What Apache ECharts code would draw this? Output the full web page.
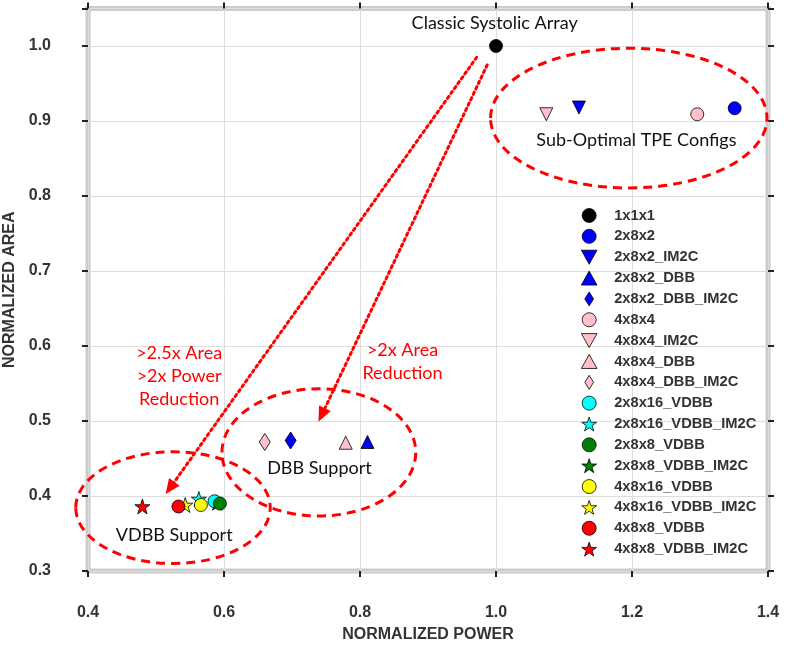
<!DOCTYPE html>
<html>
<head>
<meta charset="utf-8">
<script src="https://cdn.jsdelivr.net/npm/echarts@6/dist/echarts.min.js"></script>
<style>
  html, body { margin: 0; padding: 0; background: #fff; }
  #chart { width: 789px; height: 650px; }
</style>
</head>
<body>
<div id="chart"></div>
<script>
// configs, in legend order
var configNames = ['1x1x1', '2x8x2', '2x8x2_IM2C', '2x8x2_DBB', '2x8x2_DBB_IM2C',
  '4x8x4', '4x8x4_IM2C', '4x8x4_DBB', '4x8x4_DBB_IM2C',
  '2x8x16_VDBB', '2x8x16_VDBB_IM2C', '2x8x8_VDBB', '2x8x8_VDBB_IM2C',
  '4x8x16_VDBB', '4x8x16_VDBB_IM2C', '4x8x8_VDBB', '4x8x8_VDBB_IM2C'];
var powerValues = [1.0, 1.351, 1.122, 0.811, 0.698,
  1.296, 1.074, 0.779, 0.660,
  0.586, 0.563, 0.594, 0.590,
  0.566, 0.543, 0.533, 0.480];
var areaValues = [1.0, 0.917, 0.918, 0.472, 0.474,
  0.909, 0.909, 0.471, 0.472,
  0.393, 0.396, 0.390, 0.391,
  0.388, 0.388, 0.386, 0.386];

var xTicks = [0.4, 0.6, 0.8, 1.0, 1.2, 1.4];
var yTicks = [0.3, 0.4, 0.5, 0.6, 0.7, 0.8, 0.9, 1.0];

// annotations, in data units
var ellipseBoxes = [
  [0.992, 0.997, 1.3985, 0.8107],
  [0.597, 0.543, 0.882, 0.3733],
  [0.382, 0.459, 0.668, 0.310]
];
var arrowLines = [
  [[0.9716, 0.985], [0.5206, 0.4107]],
  [[0.987, 0.9747], [0.7437, 0.508]]
];
var blackNotes = [
  ['Classic Systolic Array', 0.998, 1.031],
  ['Sub-Optimal TPE Configs', 1.2065, 0.8747],
  ['DBB Support', 0.7404, 0.4377],
  ['VDBB Support', 0.5268, 0.348]
];
var redNotes = [
  ['>2.5x Area\n>2x Power\nReduction', 0.534, 0.56],
  ['>2x Area\nReduction', 0.8625, 0.5787]
];

var STAR = 'path://M50,0 L61.8,35.3 L99,35.3 L69,57.3 L80.3,92.6 L50,70.8 L19.7,92.6 L31,57.3 L1,35.3 L38.2,35.3 Z';
var SHAPES = {
  circle: { symbol: 'circle', size: 13, rotate: 0, icon: 'path://M10,5A5,5 0 1 1 0,5A5,5 0 1 1 10,5Z' },
  down: { symbol: 'triangle', size: 13, rotate: 180, icon: 'path://M0,0L10,0L5,9Z' },
  up: { symbol: 'triangle', size: 13, rotate: 0, icon: 'path://M5,0L10,9L0,9Z' },
  diamond: { symbol: 'diamond', size: [11, 17], rotate: 0, icon: 'path://M5,0L10,8L5,16L0,8Z' },
  star: { symbol: STAR, size: 15, rotate: 0, icon: STAR }
};
var shapeOf = ['circle', 'circle', 'down', 'up', 'diamond',
  'circle', 'down', 'up', 'diamond',
  'circle', 'star', 'circle', 'star',
  'circle', 'star', 'circle', 'star'];
var colorOf = ['#000000', '#0000ff', '#0000ff', '#0000ff', '#0000ff',
  '#ffc0cb', '#ffc0cb', '#ffc0cb', '#ffc0cb',
  '#00ffff', '#00ffff', '#007f00', '#007f00',
  '#ffff00', '#ffff00', '#ff0000', '#ff0000'];

var chart = echarts.init(document.getElementById('chart'));

var series = configNames.map(function (name, i) {
  var s = SHAPES[shapeOf[i]];
  var item = {
    name: name,
    type: 'scatter',
    xAxisIndex: 0,
    yAxisIndex: 0,
    z: name === '2x8x8_VDBB_IM2C' ? 1 : 2,
    symbol: s.symbol,
    symbolSize: s.size,
    symbolRotate: s.rotate,
    itemStyle: { color: colorOf[i], borderColor: '#000', borderWidth: 0.8, opacity: 1 },
    emphasis: { disabled: true },
    data: [[powerValues[i], areaValues[i]]]
  };
  if (i === 0) {
    item.markLine = {
      silent: true,
      symbol: ['none', 'triangle'],
      symbolSize: [13, 15],
      label: { show: false },
      lineStyle: { color: '#ff0000', width: 3, type: [2.5, 3.5], cap: 'round' },
      data: arrowLines.map(function (a) {
        return [{ coord: a[0] }, { coord: a[1] }];
      })
    };
  }
  return item;
});

var legendItems = configNames.map(function (name, i) {
  return { name: name, icon: SHAPES[shapeOf[i]].icon, itemStyle: { color: colorOf[i], borderColor: '#000', borderWidth: 0.8 } };
});

var tickFont = { color: '#333', fontWeight: 'bold', fontSize: 16, fontFamily: 'Liberation Sans, Arial, sans-serif' };

function oneDecimal(v) {
  return yTicks.concat(xTicks).some(function (t) { return Math.abs(t - v) < 1e-6; }) ? v.toFixed(1) : '';
}

chart.setOption({
  animation: false,
  backgroundColor: '#fff',
  grid: {
    left: 88, right: 21, top: 8.5, bottom: 79,
    outerBoundsMode: 'none',
    containLabel: false,
    show: true, borderColor: '#cccccc', borderWidth: 5, backgroundColor: 'transparent'
  },
  legend: {
    orient: 'vertical',
    left: 576,
    top: 203,
    itemWidth: 40,
    itemHeight: 14,
    itemGap: 5.85,
    symbolKeepAspect: true,
    selectedMode: false,
    textStyle: { color: '#333', fontWeight: 'bold', fontSize: 14.7, fontFamily: 'Liberation Sans, Arial, sans-serif' },
    data: legendItems
  },
  xAxis: [{
    type: 'value',
    min: 0.4, max: 1.4, interval: 0.2,
    name: 'NORMALIZED POWER',
    nameLocation: 'middle',
    nameGap: 56,
    nameTextStyle: tickFont,
    axisLine: { show: false },
    axisTick: { show: true, length: 6, lineStyle: { color: '#222', width: 2 } },
    axisLabel: Object.assign({ margin: 34, formatter: oneDecimal }, tickFont),
    splitLine: { show: true, lineStyle: { color: '#dddddd', width: 1 } }
  }, {
    type: 'value',
    position: 'top',
    min: 0.4, max: 1.4, interval: 0.2,
    axisLine: { show: false },
    axisTick: { show: true, length: 6, lineStyle: { color: '#222', width: 2 } },
    axisLabel: { show: false },
    splitLine: { show: false }
  }],
  yAxis: [{
    type: 'value',
    min: 0.3, max: 1.05, interval: 0.1,
    name: 'NORMALIZED AREA',
    nameLocation: 'middle',
    nameGap: 60,
    nameTextStyle: tickFont,
    axisLine: { show: false },
    axisTick: { show: true, length: 6, lineStyle: { color: '#222', width: 2 } },
    axisLabel: Object.assign({ margin: 37, formatter: oneDecimal }, tickFont),
    splitLine: { show: true, lineStyle: { color: '#dddddd', width: 1 } }
  }, {
    type: 'value',
    position: 'right',
    min: 0.3, max: 1.05, interval: 0.1,
    axisLine: { show: false },
    axisTick: { show: true, length: 6, lineStyle: { color: '#222', width: 2 } },
    axisLabel: { show: false },
    splitLine: { show: false }
  }],
  series: series
});

// annotations placed through the axes
function px(x, y) { return chart.convertToPixel({ xAxisIndex: 0, yAxisIndex: 0 }, [x, y]); }

var graphics = [];
ellipseBoxes.forEach(function (b) {
  var p0 = px(b[0], b[1]);
  var p1 = px(b[2], b[3]);
  graphics.push({
    type: 'ellipse',
    silent: true,
    z: 10,
    shape: { cx: (p0[0] + p1[0]) / 2, cy: (p0[1] + p1[1]) / 2, rx: Math.abs(p1[0] - p0[0]) / 2, ry: Math.abs(p1[1] - p0[1]) / 2 },
    style: { fill: null, stroke: '#ff0000', lineWidth: 3, lineDash: [9, 6] }
  });
});
blackNotes.forEach(function (n) {
  var p = px(n[1], n[2]);
  graphics.push({
    type: 'text', silent: true, z: 11, x: p[0], y: p[1],
    style: { text: n[0], fill: '#111', fontSize: 18, fontFamily: 'Lato, sans-serif', align: 'center', verticalAlign: 'middle' }
  });
});
redNotes.forEach(function (n) {
  var p = px(n[1], n[2]);
  graphics.push({
    type: 'text', silent: true, z: 11, x: p[0], y: p[1],
    style: { text: n[0], fill: '#ff0000', fontSize: 18, lineHeight: 23, fontFamily: 'Lato, sans-serif', align: 'center', verticalAlign: 'middle' }
  });
});
chart.setOption({ graphic: graphics });
</script>
</body>
</html>
